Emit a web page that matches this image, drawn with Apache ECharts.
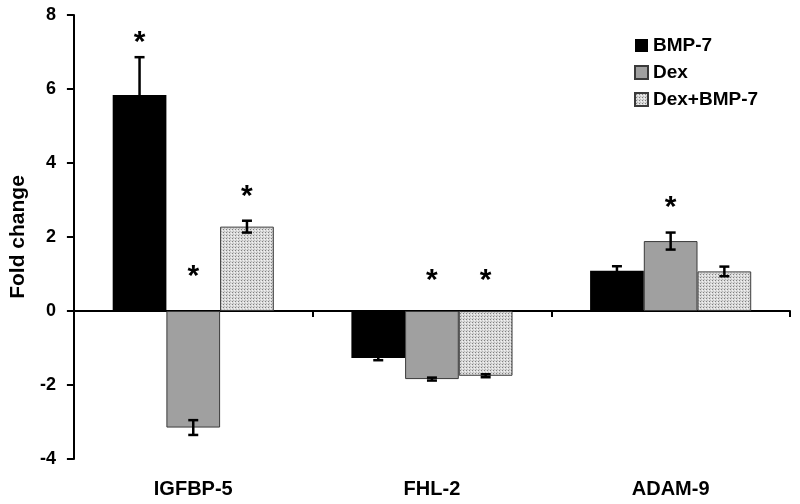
<!DOCTYPE html>
<html><head><meta charset="utf-8">
<script src="https://cdn.jsdelivr.net/npm/echarts@6/dist/echarts.min.js"></script>
<style>html,body{margin:0;padding:0;background:#fff}#c{width:800px;height:504px}</style>
</head><body><div id="c"></div>
<script>
const categories = ['IGFBP-5', 'FHL-2', 'ADAM-9'];
const seriesNames = ['BMP-7', 'Dex', 'Dex+BMP-7'];
const bmp7 = [5.84, -1.27, 1.09];
const dex = [-3.15, -1.84, 1.89];
const dexBmp7 = [2.28, -1.75, 1.07];
const bmp7Err = [1.02, 0.06, 0.12];
const dexErr = [0.2, 0.04, 0.23];
const dexBmp7Err = [0.16, 0.04, 0.13];
const bmp7Star = [7.4, null, null];
const dexStar = [1.1, 0.97, 2.95];
const dexBmp7Star = [3.25, 0.97, null];
const yMin = -4, yMax = 8, yStep = 2;

const FONT = '"Liberation Sans", Arial, sans-serif';
const pc = document.createElement('canvas'); pc.width = 3; pc.height = 3;
const g = pc.getContext('2d');
g.fillStyle = '#dadada'; g.fillRect(0, 0, 3, 3);
g.fillStyle = '#808080'; g.fillRect(1, 1, 1, 1);
g.fillStyle = '#b8b8b8'; g.fillRect(2, 0, 1, 1);
g.fillStyle = '#f2f2f2'; g.fillRect(0, 2, 1, 1);

const values = [bmp7, dex, dexBmp7];
const errs = [bmp7Err, dexErr, dexBmp7Err];
const stars = [bmp7Star, dexStar, dexBmp7Star];
const BAR_FRAC = 0.225;

const errData = [];
const starData = [];
values.forEach((arr, si) => arr.forEach((v, ci) => {
  errData.push([ci, v, errs[si][ci], si]);
  if (stars[si][ci] != null) starData.push([ci, stars[si][ci], si]);
}));

const styles = [
  { color: '#000000' },
  { color: '#a0a0a0', borderColor: '#3a3a3a', borderWidth: 1 },
  { color: { image: pc, repeat: 'repeat' }, borderColor: '#3a3a3a', borderWidth: 1 }
];

const barSeries = seriesNames.map((n, si) => ({
  name: n, type: 'bar', data: values[si], xAxisIndex: 0, yAxisIndex: 0,
  barWidth: (BAR_FRAC * 100) + '%', barGap: '0%', itemStyle: styles[si]
}));

const chart = echarts.init(document.getElementById('c'), null, { renderer: 'canvas' });
chart.setOption({
  animation: false,
  backgroundColor: '#fff',
  grid: { left: 72, right: 10, top: 15, bottom: 45, containLabel: false },
  legend: {
    orient: 'vertical', left: 629, top: 31, itemWidth: 13, itemHeight: 13, itemGap: 8,
    icon: 'rect', data: seriesNames,
    textStyle: { fontFamily: FONT, fontWeight: 'bold', fontSize: 19, color: '#000' }
  },
  xAxis: [
    { type: 'category', data: categories, position: 'bottom', boundaryGap: true,
      axisLine: { show: true, onZero: true, lineStyle: { color: '#000', width: 2 } },
      axisTick: { show: true, interval: 0, alignWithLabel: false, length: 6, lineStyle: { color: '#000', width: 2 } },
      axisLabel: { show: false }, splitLine: { show: false } },
    { type: 'category', data: categories, position: 'bottom',
      axisLine: { show: false, onZero: false }, axisTick: { show: false },
      axisLabel: { show: true, margin: 20, fontFamily: FONT, fontWeight: 'bold', fontSize: 20, color: '#000' },
      splitLine: { show: false } }
  ],
  yAxis: {
    type: 'value', min: yMin, max: yMax, interval: yStep,
    name: 'Fold change', nameLocation: 'middle', nameGap: 42, nameRotate: 90,
    nameTextStyle: { fontFamily: FONT, fontWeight: 'bold', fontSize: 21, color: '#000' },
    axisLine: { show: true, lineStyle: { color: '#000', width: 2 } },
    axisTick: { show: true, length: 7, lineStyle: { color: '#000', width: 2 } },
    axisLabel: { margin: 18, fontFamily: FONT, fontWeight: 'bold', fontSize: 18, color: '#000' },
    splitLine: { show: false }
  },
  series: barSeries.concat([
    {
      type: 'custom', name: 'err', xAxisIndex: 0, yAxisIndex: 0, z: 5, data: errData,
      renderItem: function (params, api) {
        const ci = api.value(0), v = api.value(1), e = api.value(2), si = api.value(3);
        const catW = api.size([1, 0])[0];
        const bw = catW * BAR_FRAC;
        const x = api.coord([ci, v])[0] + (si - 1) * bw;
        const yt = api.coord([ci, v + e])[1];
        const yb = api.coord([ci, v - e])[1];
        const st = { stroke: '#000', lineWidth: 2.5 };
        return { type: 'group', children: [
          { type: 'line', shape: { x1: x, y1: yt, x2: x, y2: yb }, style: st },
          { type: 'line', shape: { x1: x - 5, y1: yt, x2: x + 5, y2: yt }, style: st },
          { type: 'line', shape: { x1: x - 5, y1: yb, x2: x + 5, y2: yb }, style: st }
        ] };
      }
    },
    {
      type: 'custom', name: 'star', xAxisIndex: 0, yAxisIndex: 0, z: 6, data: starData,
      renderItem: function (params, api) {
        const ci = api.value(0), v = api.value(1), si = api.value(2);
        const catW = api.size([1, 0])[0];
        const bw = catW * BAR_FRAC;
        const p = api.coord([ci, v]);
        return { type: 'text', style: { text: '*', x: p[0] + (si - 1) * bw, y: p[1] + 6,
          font: 'bold 30px ' + FONT, fill: '#000', align: 'center', verticalAlign: 'middle' } };
      }
    }
  ])
});
</script></body></html>
